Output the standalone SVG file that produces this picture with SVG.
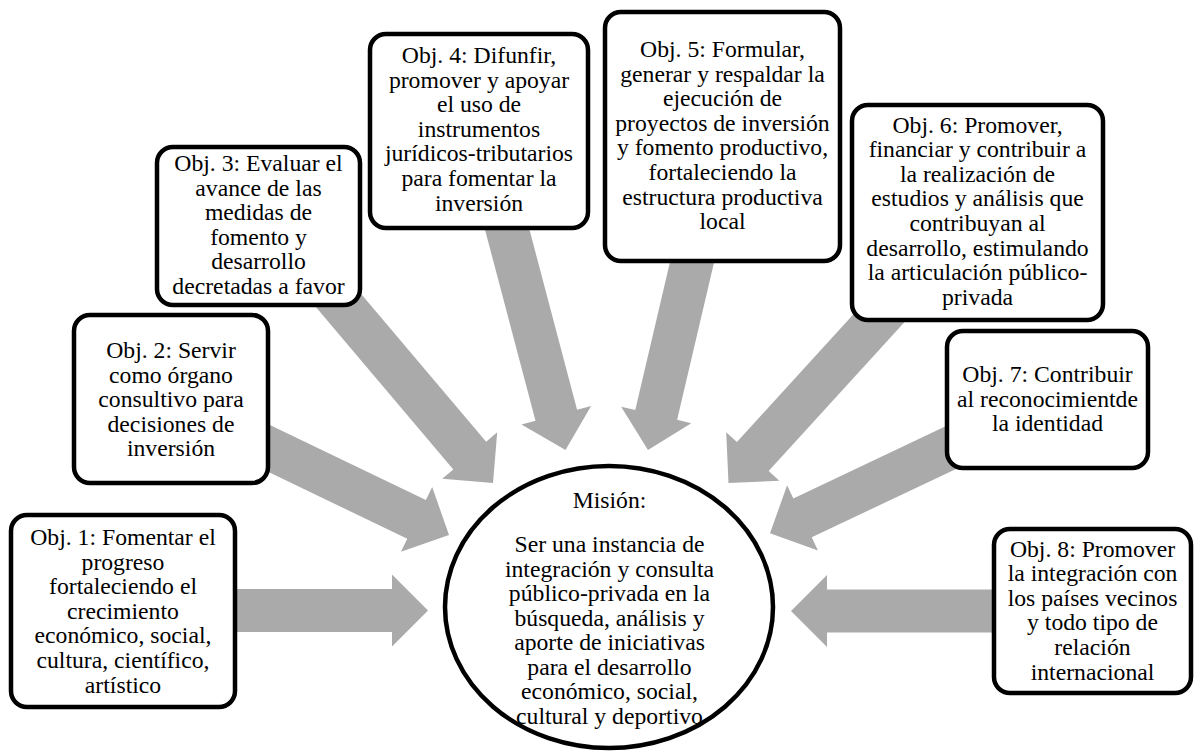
<svg xmlns="http://www.w3.org/2000/svg" width="1196" height="755" viewBox="0 0 1196 755">
<style>
.arr{fill:#AAAAAA;stroke:none}
.box{fill:#FFFFFF;stroke:#000000;stroke-width:4.5}
.t{font-family:"Liberation Serif","Times New Roman",serif;font-size:23.7px;fill:#000000;text-anchor:middle}
</style>
<rect x="0" y="0" width="1196" height="755" fill="#FFFFFF"/>
<g id="connectors">
<path class="arr" transform="translate(428,610.5)" d="M -194 -21.5 H -36 V -36 L 0 0 L -36 36 V 21.5 H -194 Z"/>
<path class="arr" transform="translate(449,535) rotate(25.7)" d="M -212 -21.5 H -36 V -36 L 0 0 L -36 36 V 21.5 H -212 Z"/>
<path class="arr" transform="translate(493,483) rotate(49.74)" d="M -252 -21.5 H -36 V -36 L 0 0 L -36 36 V 21.5 H -252 Z"/>
<path class="arr" transform="translate(565.5,450) rotate(75.19)" d="M -238 -21.5 H -36 V -36 L 0 0 L -36 36 V 21.5 H -238 Z"/>
<path class="arr" transform="translate(648,450) rotate(103.19)" d="M -203 -21.5 H -36 V -36 L 0 0 L -36 36 V 21.5 H -203 Z"/>
<path class="arr" transform="translate(728.5,483) rotate(132.41)" d="M -245 -21.5 H -36 V -36 L 0 0 L -36 36 V 21.5 H -245 Z"/>
<path class="arr" transform="translate(770,533.3) rotate(154.64)" d="M -208 -21.5 H -36 V -36 L 0 0 L -36 36 V 21.5 H -208 Z"/>
<path class="arr" transform="translate(791,611) rotate(180)" d="M -204 -21.5 H -36 V -36 L 0 0 L -36 36 V 21.5 H -204 Z"/>
</g>
<g id="mision">
<ellipse class="box" cx="609" cy="607" rx="164" ry="141"/>
<text class="t"><tspan x="609.5" y="508">Misión:</tspan><tspan x="609.5" y="552">Ser una instancia de</tspan><tspan x="609.5" y="576.5">integración y consulta</tspan><tspan x="609.5" y="601">público-privada en la</tspan><tspan x="609.5" y="625.5">búsqueda, análisis y</tspan><tspan x="609.5" y="650">aporte de iniciativas</tspan><tspan x="609.5" y="674.5">para el desarrollo</tspan><tspan x="609.5" y="699">económico, social,</tspan><tspan x="609.5" y="723.5">cultural y deportivo</tspan></text>
</g>
<g id="obj1">
<rect class="box" x="11" y="515" width="224" height="192" rx="16"/>
<text class="t"><tspan x="123" y="545">Obj. 1: Fomentar el</tspan><tspan x="123" y="569.6">progreso</tspan><tspan x="123" y="594.2">fortaleciendo el</tspan><tspan x="123" y="618.8">crecimiento</tspan><tspan x="123" y="643.4">económico, social,</tspan><tspan x="123" y="668">cultura, científico,</tspan><tspan x="123" y="692.6">artístico</tspan></text>
</g>
<g id="obj2">
<rect class="box" x="74" y="315" width="194" height="168" rx="16"/>
<text class="t"><tspan x="171" y="358">Obj. 2: Servir</tspan><tspan x="171" y="382.6">como órgano</tspan><tspan x="171" y="407.2">consultivo para</tspan><tspan x="171" y="431.8">decisiones de</tspan><tspan x="171" y="456.4">inversión</tspan></text>
</g>
<g id="obj3">
<rect class="box" x="157" y="147" width="203" height="158" rx="16"/>
<text class="t"><tspan x="258.5" y="171">Obj. 3: Evaluar el</tspan><tspan x="258.5" y="195.6">avance de las</tspan><tspan x="258.5" y="220.2">medidas de</tspan><tspan x="258.5" y="244.8">fomento y</tspan><tspan x="258.5" y="269.4">desarrollo</tspan><tspan x="258.5" y="294">decretadas a favor</tspan></text>
</g>
<g id="obj4">
<rect class="box" x="370" y="34" width="218" height="194" rx="16"/>
<text class="t"><tspan x="479" y="63">Obj. 4: Difunfir,</tspan><tspan x="479" y="87.6">promover y apoyar</tspan><tspan x="479" y="112.2">el uso de</tspan><tspan x="479" y="136.8">instrumentos</tspan><tspan x="479" y="161.4">jurídicos-tributarios</tspan><tspan x="479" y="186">para fomentar la</tspan><tspan x="479" y="210.6">inversión</tspan></text>
</g>
<g id="obj5">
<rect class="box" x="605" y="12" width="235" height="249" rx="16"/>
<text class="t"><tspan x="722.5" y="57">Obj. 5: Formular,</tspan><tspan x="722.5" y="81.6">generar y respaldar la</tspan><tspan x="722.5" y="106.2">ejecución de</tspan><tspan x="722.5" y="130.8">proyectos de inversión</tspan><tspan x="722.5" y="155.4">y fomento productivo,</tspan><tspan x="722.5" y="180">fortaleciendo la</tspan><tspan x="722.5" y="204.6">estructura productiva</tspan><tspan x="722.5" y="229.2">local</tspan></text>
</g>
<g id="obj6">
<rect class="box" x="852" y="105" width="251" height="215" rx="16"/>
<text class="t"><tspan x="977.5" y="132.5">Obj. 6: Promover,</tspan><tspan x="977.5" y="157.1">financiar y contribuir a</tspan><tspan x="977.5" y="181.7">la realización de</tspan><tspan x="977.5" y="206.3">estudios y análisis que</tspan><tspan x="977.5" y="230.9">contribuyan al</tspan><tspan x="977.5" y="255.5">desarrollo, estimulando</tspan><tspan x="977.5" y="280.1">la articulación público-</tspan><tspan x="977.5" y="304.7">privada</tspan></text>
</g>
<g id="obj7">
<rect class="box" x="947" y="331" width="201" height="137" rx="16"/>
<text class="t"><tspan x="1047.5" y="382">Obj. 7: Contribuir</tspan><tspan x="1047.5" y="406.6">al reconocimientde</tspan><tspan x="1047.5" y="431.2">la identidad</tspan></text>
</g>
<g id="obj8">
<rect class="box" x="994" y="529" width="197" height="164" rx="16"/>
<text class="t"><tspan x="1092.5" y="556.5">Obj. 8: Promover</tspan><tspan x="1092.5" y="581.1">la integración con</tspan><tspan x="1092.5" y="605.7">los países vecinos</tspan><tspan x="1092.5" y="630.3">y todo tipo de</tspan><tspan x="1092.5" y="654.9">relación</tspan><tspan x="1092.5" y="679.5">internacional</tspan></text>
</g>
</svg>
